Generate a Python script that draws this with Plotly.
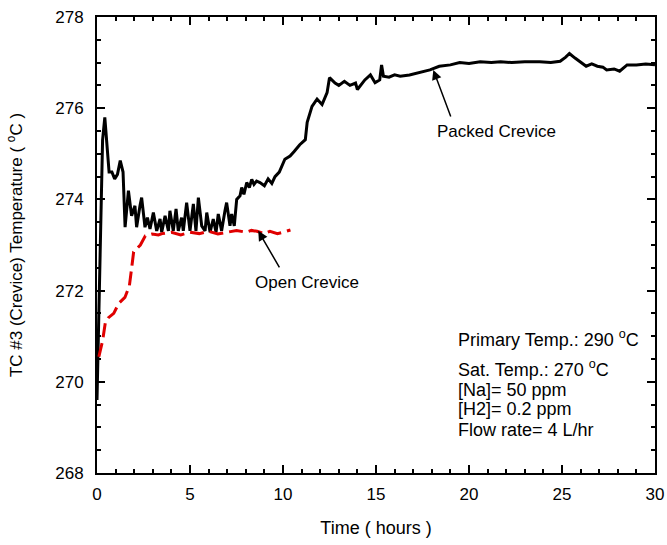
import plotly.graph_objects as go

# Packed crevice (black solid)
packed_t = [0, 0.08, 0.15, 0.2, 0.3, 0.42, 0.55, 0.65, 0.8, 0.95, 1.1, 1.25, 1.4,
            1.51, 1.69, 1.86, 2.04, 2.13, 2.31, 2.40, 2.58, 2.71, 2.85, 3.03, 3.21,
            3.39, 3.48, 3.66, 3.84, 3.92, 4.10, 4.25, 4.37, 4.55, 4.64, 4.82, 5.00,
            5.18, 5.32, 5.45, 5.63, 5.81, 5.90, 6.08, 6.25, 6.40, 6.52, 6.70, 6.88,
            6.97, 7.15, 7.24, 7.38, 7.51, 7.69, 7.78, 7.90, 8.05, 8.19, 8.32, 8.44,
            8.58, 8.76, 9.0, 9.2, 9.4, 9.57, 9.8, 10.1, 10.38, 10.6, 10.9, 11.2, 11.3,
            11.56, 11.83, 12.1, 12.37, 12.5, 12.8, 13.0, 13.3, 13.6, 13.9, 14.0, 14.4,
            14.7, 14.95, 15.2, 15.3, 15.4, 15.7, 16.0, 16.3, 16.8, 17.3, 17.9, 18.4,
            19.0, 19.5, 20.0, 20.6, 21.2, 21.7, 22.3, 23.0, 23.8, 24.4, 24.9, 25.2,
            25.4, 25.7, 26.0, 26.3, 26.6, 26.9, 27.2, 27.4, 27.8, 28.1, 28.5, 29.0,
            29.5, 30.0]
packed_T = [269.6, 271.2, 273.1, 273.3, 275.3, 275.8, 275.0, 274.6, 274.6, 274.45, 274.55, 274.85, 274.6,
            273.39, 274.19, 273.64, 273.86, 273.39, 273.86, 274.04, 273.39, 273.60, 273.35, 273.71, 273.31,
            273.57, 273.28, 273.64, 273.31, 273.75, 273.31, 273.79, 273.31, 273.60, 273.31, 273.93, 273.31,
            273.90, 273.31, 274.04, 273.42, 273.31, 273.71, 273.28, 273.57, 273.28, 273.68, 273.31, 273.75,
            273.93, 273.42, 273.68, 273.42, 274.00, 274.08, 274.26, 274.11, 274.37, 274.26, 274.44, 274.33,
            274.40, 274.37, 274.3, 274.45, 274.35, 274.5, 274.6, 274.88, 274.95, 275.05, 275.2, 275.31, 275.69,
            276.04, 276.2, 276.08, 276.34, 276.67, 276.55, 276.5, 276.59, 276.5, 276.55, 276.41, 276.62,
            276.73, 276.56, 276.62, 276.95, 276.7, 276.68, 276.73, 276.7, 276.73, 276.78, 276.84, 276.92,
            276.95, 277.0, 276.98, 277.02, 277.0, 277.02, 277.0, 277.02, 277.02, 277.0, 277.03, 277.12,
            277.2, 277.1, 277.0, 276.92, 276.97, 276.92, 276.9, 276.84, 276.86, 276.81, 276.95, 276.95,
            276.97, 276.95]

# Open crevice (red dashed)
open_t = [0.1, 0.3, 0.45, 0.6, 0.9, 1.17, 1.5, 1.74, 1.88, 1.97, 2.33, 2.6, 2.96, 3.3, 3.5, 4.0,
          4.5, 5.0, 5.5, 6.0, 6.5, 7.0, 7.5, 8.0, 8.3, 8.6, 9.0, 9.3, 9.7, 10.0, 10.4]
open_T = [270.55, 270.9, 271.3, 271.4, 271.5, 271.72, 271.85, 272.1, 272.55, 272.85, 273.0, 273.2,
          273.24, 273.22, 273.25, 273.28, 273.22, 273.28, 273.25, 273.3, 273.24, 273.28, 273.32, 273.28,
          273.32, 273.3, 273.25, 273.3, 273.25, 273.28, 273.33]

info_lines = ["Primary Temp.: 290 <sup>o</sup>C", "Sat. Temp.: 270 <sup>o</sup>C",
              "[Na]= 50 ppm", "[H2]= 0.2 ppm", "Flow rate= 4 L/hr"]
info_y = [270.95, 270.29, 269.83, 269.40, 268.94]

FONT = "Liberation Sans, Arial, sans-serif"

fig = go.Figure()
fig.add_trace(go.Scatter(x=packed_t, y=packed_T, mode="lines",
                         line=dict(color="black", width=3), showlegend=False))
fig.add_trace(go.Scatter(x=open_t, y=open_T, mode="lines",
                         line=dict(color="#e00000", width=3, dash="14px,6px"), showlegend=False))

ann = []
# arrows
ann.append(dict(x=8.67, y=273.31, ax=22, ay=38, xref="x", yref="y", text="",
                showarrow=True, arrowhead=2, arrowsize=1.3, arrowwidth=1.5, arrowcolor="black"))
ann.append(dict(x=18.08, y=276.84, ax=18, ay=48, xref="x", yref="y", text="",
                showarrow=True, arrowhead=2, arrowsize=1.3, arrowwidth=1.5, arrowcolor="black"))
ann.append(dict(x=11.29, y=272.17, xref="x", yref="y", text="Open Crevice", showarrow=False,
                font=dict(size=17, color="black", family=FONT)))
ann.append(dict(x=21.5, y=275.49, xref="x", yref="y", text="Packed Crevice", showarrow=False,
                font=dict(size=17, color="black", family=FONT)))
for txt, yy in zip(info_lines, info_y):
    ann.append(dict(x=19.3, y=yy, xref="x", yref="y", text=txt, showarrow=False,
                    xanchor="left", font=dict(size=18, color="black", family=FONT)))

axis_common = dict(showline=True, linecolor="black", linewidth=2, mirror="allticks",
                   ticks="inside", ticklen=8, tickwidth=1.5, tickcolor="black",
                   showgrid=False, zeroline=False, automargin=False,
                   tickfont=dict(size=17, color="black", family=FONT))

fig.update_layout(
    width=667, height=545,
    margin=dict(l=97, r=12, t=17, b=72),
    plot_bgcolor="white", paper_bgcolor="white",
    font=dict(family=FONT, size=17, color="black"),
    xaxis=dict(range=[0, 30], dtick=5, tick0=0, ticklabelstandoff=5,
               minor=dict(dtick=1, ticks="inside", ticklen=4, tickwidth=1.5, tickcolor="black"),
               title=dict(text="Time ( hours )", font=dict(size=18, family=FONT), standoff=18),
               **axis_common),
    yaxis=dict(range=[268, 278], dtick=2, tick0=268, ticklabelstandoff=8,
               minor=dict(dtick=0.5, ticks="inside", ticklen=4, tickwidth=1.5, tickcolor="black"),
               title=dict(text="TC #3 (Crevice) Temperature ( <sup>o</sup>C )",
                          font=dict(size=17, family=FONT), standoff=28),
               **axis_common),
    annotations=ann,
)

fig.write_html("out.html")
